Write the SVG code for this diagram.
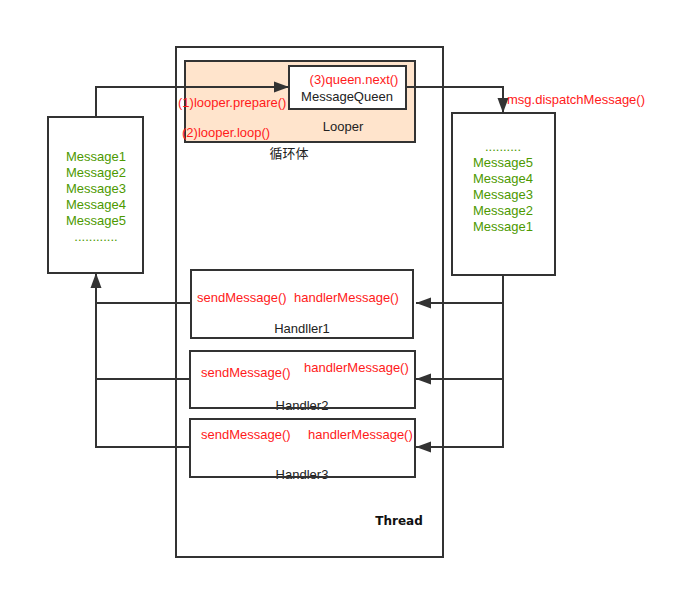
<svg xmlns="http://www.w3.org/2000/svg" width="692" height="592" viewBox="0 0 692 592">
<style>
  .box{fill:#fff;stroke:#333;stroke-width:2}
  .ol{fill:none;stroke:#333;stroke-width:2}
  .t{font-family:"Liberation Sans","Noto Sans CJK SC",sans-serif;font-size:13px}
  .red{fill:#ff1a1a}
  .grn{fill:#4d9900}
  .blk{fill:#222}
  .c{text-anchor:middle}
  .ln{fill:none;stroke:#333;stroke-width:2}
</style>
<defs>
  <marker id="ah" markerUnits="userSpaceOnUse" markerWidth="16" markerHeight="12" refX="15" refY="6" orient="auto">
    <path d="M0,0.5 L15,6 L0,11.5 z" fill="#333"/>
  </marker>
</defs>
<rect width="692" height="592" fill="#fff"/>

<g id="thread">
  <rect class="box" x="176" y="47" width="267" height="510"/>
  <text x="399" y="525" text-anchor="middle" font-family="DejaVu Sans,sans-serif" font-size="12" font-weight="bold" fill="#111">Thread</text>
</g>

<g id="looper">
  <rect x="185" y="61" width="230" height="81" fill="#ffe4cc" stroke="#333" stroke-width="2"/>
  <text class="t blk c" x="343" y="131">Looper</text>
  <text class="t red" x="178" y="107">(1)looper.prepare()</text>
  <text class="t red" x="182" y="137">(2)looper.loop()</text>
  <text class="t blk c" x="289" y="158">循环体</text>
</g>

<g id="messagequeen">
  <rect class="box" x="289" y="66" width="117" height="43"/>
  <text class="t red c" x="354" y="84">(3)queen.next()</text>
  <text class="t blk c" x="347" y="101">MessageQueen</text>
</g>

<g id="leftqueue">
  <rect class="box" x="48" y="117" width="95" height="156"/>
  <text class="t grn c" x="96" y="161">Message1</text>
  <text class="t grn c" x="96" y="177">Message2</text>
  <text class="t grn c" x="96" y="193">Message3</text>
  <text class="t grn c" x="96" y="209">Message4</text>
  <text class="t grn c" x="96" y="225">Message5</text>
  <text class="t grn c" x="96" y="241">............</text>
</g>

<g id="rightqueue">
  <rect class="box" x="452" y="113" width="103" height="162"/>
  <text class="t grn c" x="503" y="151">..........</text>
  <text class="t grn c" x="503" y="167">Message5</text>
  <text class="t grn c" x="503" y="183">Message4</text>
  <text class="t grn c" x="503" y="199">Message3</text>
  <text class="t grn c" x="503" y="215">Message2</text>
  <text class="t grn c" x="503" y="231">Message1</text>
</g>

<g id="handler1">
  <rect x="191" y="270" width="222" height="68" fill="#fff"/>
  <text class="t red" x="197" y="302">sendMessage()</text>
  <text class="t red" x="294" y="302">handlerMessage()</text>
  <text class="t blk c" x="302" y="333">Handller1</text>
  <rect class="ol" x="191" y="270" width="222" height="68"/>
</g>

<g id="handler2">
  <rect x="190" y="351" width="225" height="57" fill="#fff"/>
  <text class="t red" x="201" y="377">sendMessage()</text>
  <text class="t red" x="304" y="372">handlerMessage()</text>
  <text class="t blk c" x="302" y="410">Handler2</text>
  <rect class="ol" x="190" y="351" width="225" height="57"/>
</g>

<g id="handler3">
  <rect x="190" y="419" width="225" height="58" fill="#fff"/>
  <text class="t red" x="201" y="439">sendMessage()</text>
  <text class="t red" x="308" y="439">handlerMessage()</text>
  <text class="t blk c" x="302" y="479">Handler3</text>
  <rect class="ol" x="190" y="419" width="225" height="58"/>
</g>

<g id="connectors">
  <path class="ln" d="M96,117 V87 H289" marker-end="url(#ah)"/>
  <path class="ln" d="M406,87 H503 V113" marker-end="url(#ah)"/>
  <text class="t red" x="507" y="104">msg.dispatchMessage()</text>
  <path class="ln" d="M191,303 H96"/>
  <path class="ln" d="M190,379 H96"/>
  <path class="ln" d="M190,447 H96 V273" marker-end="url(#ah)"/>
  <path class="ln" d="M503,275 V447 H416" marker-end="url(#ah)"/>
  <path class="ln" d="M503,303 H416" marker-end="url(#ah)"/>
  <path class="ln" d="M503,379 H416" marker-end="url(#ah)"/>
</g>
</svg>
